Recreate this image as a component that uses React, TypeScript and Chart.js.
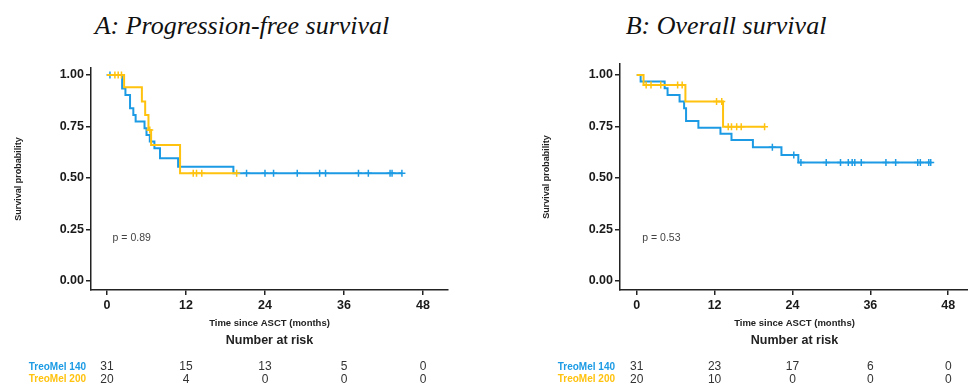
import React, { useEffect, useRef } from 'react';
import { Chart, registerables } from 'chart.js';

Chart.register(...registerables);

const BLUE = '#1C9BE4';
const YELLOW = '#FFC20E';

// Tick values
const xTickValues = [0, 12, 24, 36, 48];
const yTickValues = [0, 0.25, 0.5, 0.75, 1];
const riskTimes = [0, 12, 24, 36, 48];
const groupLabels = ['TreoMel 140', 'TreoMel 200'];

// A: Progression-free survival
const pfs140EventTimes = [2.3, 2.8, 3.5, 4.0, 4.35, 5.7, 6.0, 6.5, 7.2, 8.05, 10.8, 19.2];
const pfs140Surv = [0.935, 0.903, 0.838, 0.806, 0.774, 0.741, 0.709, 0.677, 0.645, 0.596, 0.555, 0.523];
const pfs140Censor = [0.45, 21.2, 24.0, 25.3, 28.9, 32.3, 33.2, 38.2, 39.7, 43.0, 43.3, 44.8];

const pfs200EventTimes = [2.6, 5.3, 5.8, 6.3, 6.7, 11.1];
const pfs200Surv = [0.94, 0.871, 0.806, 0.733, 0.66, 0.523];
const pfs200Censor = [1.2, 1.7, 2.2, 6.5, 13.1, 13.6, 14.4, 19.7];

const pfsRisk140 = [31, 15, 13, 5, 0];
const pfsRisk200 = [20, 4, 0, 0, 0];
const pfsPText = 'p = 0.89';

// B: Overall survival
const os140EventTimes = [0.6, 4.3, 4.75, 6.6, 7.3, 7.6, 9.5, 12.9, 14.6, 17.9, 22.3, 24.9];
const os140Surv = [0.968, 0.935, 0.903, 0.871, 0.838, 0.777, 0.744, 0.714, 0.684, 0.649, 0.612, 0.575];
const os140Censor = [20.9, 24.2, 25.3, 29.2, 31.4, 32.6, 33.2, 33.6, 34.6, 38.4, 39.9, 43.3, 43.7, 45.0, 45.3];

const os200EventTimes = [1.05, 7.5, 13.3];
const os200Surv = [0.951, 0.871, 0.748];
const os200Censor = [1.45, 2.2, 3.7, 6.3, 7.0, 12.3, 13.1, 14.1, 14.6, 15.4, 16.1, 19.7];

const osRisk140 = [31, 23, 17, 6, 0];
const osRisk200 = [20, 10, 0, 0, 0];
const osPText = 'p = 0.53';

type Pt = { x: number; y: number; c: boolean };

function buildCurve(eventTimes: number[], surv: number[], censor: number[]): Pt[] {
  const pts: Pt[] = [{ x: 0, y: 1, c: false }];
  eventTimes.forEach((t, i) => pts.push({ x: t, y: surv[i], c: false }));
  censor.forEach((t) => {
    let s = 1;
    eventTimes.forEach((et, i) => {
      if (et <= t) s = surv[i];
    });
    pts.push({ x: t, y: s, c: true });
  });
  pts.sort((a, b) => a.x - b.x || (a.c ? 1 : 0) - (b.c ? 1 : 0));
  return pts;
}

const FONT = "'Liberation Sans', Arial, sans-serif";

type PanelProps = {
  left: number;
  width: number;
  yWidth: number;
  padRight: number;
  padTop: number;
  xMin: number;
  xMax: number;
  yMax: number;
  blue: Pt[];
  yellow: Pt[];
  risk140: number[];
  risk200: number[];
  pText: string;
};

function Panel(p: PanelProps) {
  const ref = useRef<HTMLCanvasElement | null>(null);
  useEffect(() => {
    if (!ref.current) return;
    const riskPlugin = {
      id: 'riskTable',
      afterDraw(chart: any) {
        const ctx = chart.ctx;
        const xs = chart.scales.x;
        const ys = chart.scales.y;
        const area = chart.chartArea;
        ctx.save();
        // p value
        ctx.font = `10.5px ${FONT}`;
        ctx.fillStyle = '#444';
        ctx.textAlign = 'left';
        ctx.textBaseline = 'middle';
        ctx.fillText(p.pText, xs.getPixelForValue(0.85), ys.getPixelForValue(0.21));
        // Number at risk
        ctx.font = `bold 12.5px ${FONT}`;
        ctx.fillStyle = '#222';
        ctx.textAlign = 'center';
        ctx.fillText('Number at risk', (area.left + area.right) / 2, 341);
        const rows = [p.risk140, p.risk200];
        const colors = [BLUE, YELLOW];
        const rowY = [367, 379.5];
        rows.forEach((row, r) => {
          ctx.font = `bold 10px ${FONT}`;
          ctx.fillStyle = colors[r];
          ctx.textAlign = 'right';
          ctx.fillText(groupLabels[r], area.left - 5, rowY[r]);
          ctx.font = `12px ${FONT}`;
          ctx.fillStyle = '#333';
          ctx.textAlign = 'center';
          row.forEach((n, i) => {
            ctx.fillText(String(n), xs.getPixelForValue(riskTimes[i]), rowY[r]);
          });
        });
        ctx.restore();
      },
    };
    const mk = (data: Pt[], color: string, order: number) => ({
      data,
      borderColor: color,
      backgroundColor: color,
      borderWidth: 2,
      stepped: 'before' as const,
      fill: false,
      pointStyle: 'cross',
      pointRadius: (c: any) => (c.raw && c.raw.c ? 3.5 : 0),
      pointHoverRadius: 0,
      pointBorderColor: color,
      pointBorderWidth: 1.5,
      order,
    });
    const chart = new Chart(ref.current, {
      type: 'line',
      data: { datasets: [mk(p.blue, BLUE, 2), mk(p.yellow, YELLOW, 1)] as any },
      plugins: [riskPlugin],
      options: {
        responsive: false,
        animation: false,
        events: [],
        layout: { padding: { left: 0, right: p.padRight, top: p.padTop, bottom: 55 } },
        plugins: { legend: { display: false }, tooltip: { enabled: false } },
        scales: {
          x: {
            type: 'linear',
            min: p.xMin,
            max: p.xMax,
            afterBuildTicks: (s: any) => {
              s.ticks = xTickValues.map((v) => ({ value: v }));
            },
            afterFit: (s: any) => {
              s.height = 40;
            },
            grid: { display: true, drawOnChartArea: false, drawTicks: true, tickLength: 5, color: '#222', lineWidth: 1.5 },
            border: { display: true, color: '#222', width: 1.5 },
            ticks: { font: { family: FONT, size: 12.5, weight: 'bold' }, color: '#1a1a1a', padding: 3, maxRotation: 0, autoSkip: false },
            title: {
              display: true,
              text: 'Time since ASCT (months)',
              font: { family: FONT, size: 9.5, weight: 'bold' },
              color: '#222',
              padding: { top: 0, bottom: 1.3 },
            },
          },
          y: {
            type: 'linear',
            min: -0.0437,
            max: p.yMax,
            afterBuildTicks: (s: any) => {
              s.ticks = yTickValues.map((v) => ({ value: v }));
            },
            afterFit: (s: any) => {
              s.width = p.yWidth;
            },
            grid: { display: true, drawOnChartArea: false, drawTicks: true, tickLength: 5, color: '#222', lineWidth: 1.5 },
            border: { display: true, color: '#222', width: 1.5 },
            ticks: {
              font: { family: FONT, size: 12.5, weight: 'bold' },
              color: '#1a1a1a',
              padding: 2,
              callback: (v: any) => Number(v).toFixed(2),
            },
            title: {
              display: true,
              text: 'Survival probability',
              font: { family: FONT, size: 9, weight: 'bold' },
              color: '#222',
              padding: { top: 13, bottom: 0 },
            },
          },
        },
      } as any,
    });
    return () => chart.destroy();
  }, []);
  return (
    <canvas
      ref={ref}
      width={p.width}
      height={385}
      style={{ position: 'absolute', left: p.left, top: 0, width: p.width, height: 385 }}
    />
  );
}

const titleStyle: React.CSSProperties = {
  position: 'absolute',
  top: 11,
  width: 484,
  textAlign: 'center',
  fontFamily: "'Liberation Serif', 'Times New Roman', serif",
  fontStyle: 'italic',
  fontSize: 26,
  lineHeight: '30px',
  color: '#111',
  whiteSpace: 'nowrap',
};

export default function App() {
  const pfsBlue = buildCurve(pfs140EventTimes, pfs140Surv, pfs140Censor);
  const pfsYellow = buildCurve(pfs200EventTimes, pfs200Surv, pfs200Censor);
  const osBlue = buildCurve(os140EventTimes, os140Surv, os140Censor);
  const osYellow = buildCurve(os200EventTimes, os200Surv, os200Censor);
  return (
    <div style={{ position: 'absolute', left: 0, top: 0, width: 968, height: 385, overflow: 'hidden', background: '#fff' }}>
      <div style={{ ...titleStyle, left: 0 }}>A: Progression-free survival</div>
      <div style={{ ...titleStyle, left: 484 }}>B: Overall survival</div>
      <Panel
        left={0}
        width={484}
        yWidth={91}
        padRight={36}
        padTop={68}
        xMin={-2.43}
        xMax={51.8}
        yMax={1.034}
        blue={pfsBlue}
        yellow={pfsYellow}
        risk140={pfsRisk140}
        risk200={pfsRisk200}
        pText={pfsPText}
      />
      <Panel
        left={528}
        width={446}
        yWidth={92}
        padRight={0}
        padTop={64}
        xMin={-2.58}
        xMax={51.2}
        yMax={1.053}
        blue={osBlue}
        yellow={osYellow}
        risk140={osRisk140}
        risk200={osRisk200}
        pText={osPText}
      />
    </div>
  );
}
